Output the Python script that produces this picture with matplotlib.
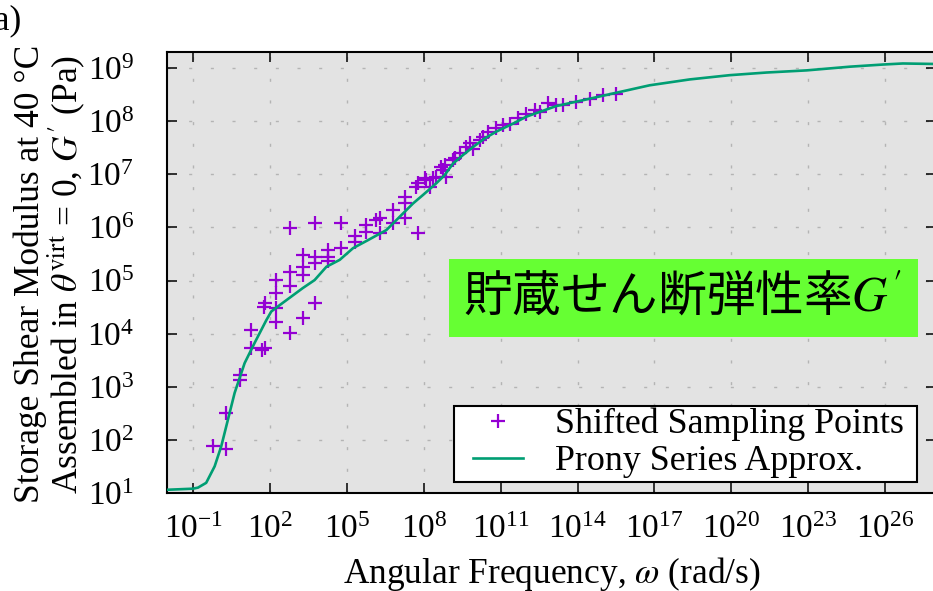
import matplotlib
matplotlib.use("Agg")
import matplotlib.pyplot as plt
from matplotlib.patches import Rectangle
from matplotlib.ticker import FixedLocator, NullLocator, LogFormatterMathtext
import numpy as np

plt.rcParams["font.family"] = ["Liberation Serif", "DejaVu Serif"]
plt.rcParams["mathtext.fontset"] = "stix"

# shifted sampling points (log10 of omega in rad/s, log10 of G' in Pa)
pts_log_omega = [-0.23, 0.30, 0.30, 0.81, 0.81, 1.27, 1.27, 1.79, 1.70, 1.79,
                 1.77, 2.25, 2.25, 2.25, 2.25, 2.77, 2.77, 2.77, 2.77, 3.28,
                 3.28, 3.28, 3.28, 3.74, 3.74, 3.74, 3.74, 4.26, 4.26, 4.26,
                 4.78, 4.78, 5.30, 5.30, 5.76, 5.76, 6.15, 6.28, 6.28, 6.80,
                 6.80, 7.25, 7.25, 7.25, 7.77, 7.71, 7.77, 8.04, 8.10, 8.23,
                 8.36, 8.49, 8.68, 8.75, 8.81, 8.88, 9.14, 9.20, 9.40, 9.66,
                 9.79, 9.92, 10.18, 10.31, 10.50, 10.83, 11.09, 11.35, 11.67, 12.00,
                 12.32, 12.52, 12.84, 13.17, 13.43, 13.95, 14.47, 14.99, 15.51]
pts_log_g = [1.89, 1.84, 2.51, 3.23, 3.13, 4.08, 3.73, 3.73, 3.70, 4.58,
             4.51, 5.01, 4.76, 4.48, 4.23, 4.01, 5.17, 4.89, 5.98, 4.30,
             5.48, 5.26, 5.11, 4.58, 6.08, 5.45, 5.33, 5.58, 5.45, 5.36,
             6.08, 5.61, 5.83, 5.73, 6.05, 5.92, 6.14, 6.17, 5.89, 6.33,
             6.08, 6.45, 6.17, 6.58, 5.89, 6.76, 6.83, 6.92, 6.89, 6.76,
             6.92, 6.95, 7.14, 7.08, 7.17, 6.95, 7.27, 7.30, 7.39, 7.51,
             7.58, 7.48, 7.64, 7.70, 7.80, 7.86, 7.92, 7.95, 8.05, 8.14,
             8.20, 8.17, 8.33, 8.30, 8.30, 8.36, 8.42, 8.48, 8.50]

# prony series approximation (log10 values)
prony_log_omega = [-2.0, -1.01, -0.81, -0.49, -0.16, 0.10, 0.36, 0.62, 1.01, 1.40,
                   1.86, 2.05, 2.38, 2.83, 3.28, 3.74, 4.20, 4.72, 5.24, 5.82,
                   6.54, 7.06, 7.58, 7.97, 8.49, 8.81, 9.14, 9.53, 9.92, 10.37,
                   10.83, 11.48, 12.00, 12.52, 13.17, 14.21, 15.51, 16.81, 18.37, 19.93,
                   21.37, 22.93, 24.63, 25.91, 26.69, 28.0]
prony_log_g = [1.07, 1.09, 1.11, 1.20, 1.51, 1.89, 2.39, 2.89, 3.45, 3.83,
               4.26, 4.42, 4.54, 4.70, 4.86, 5.01, 5.26, 5.39, 5.61, 5.76,
               5.95, 6.20, 6.45, 6.61, 6.83, 6.98, 7.20, 7.36, 7.51, 7.67,
               7.80, 7.95, 8.08, 8.17, 8.28, 8.39, 8.53, 8.67, 8.78, 8.86,
               8.91, 8.95, 9.02, 9.06, 9.08, 9.07]

x_ticks = [1e-1, 1e2, 1e5, 1e8, 1e11, 1e14, 1e17, 1e20, 1e23, 1e26]
y_ticks = [1e1, 1e2, 1e3, 1e4, 1e5, 1e6, 1e7, 1e8, 1e9]

purple = "#9400d3"
teal = "#009e73"

fig = plt.figure(figsize=(9.33, 5.91), dpi=100)
ax = fig.add_axes([0.1795, 0.165, 0.8242, 0.7475])
ax.set_facecolor("#e3e3e3")

ax.plot(10 ** np.array(pts_log_omega), 10 ** np.array(pts_log_g), "+",
        color=purple, markersize=10, markeredgewidth=1.6,
        label="Shifted Sampling Points", zorder=3)
ax.plot(10 ** np.array(prony_log_omega), 10 ** np.array(prony_log_g), "-",
        color=teal, linewidth=1.9, label="Prony Series Approx.", zorder=4)

ax.set_xscale("log")
ax.set_yscale("log")
ax.set_xlim(1e-2, 1e28)
ax.set_ylim(1e1, 2e9)

ax.xaxis.set_major_locator(FixedLocator(x_ticks))
ax.yaxis.set_major_locator(FixedLocator(y_ticks))
ax.xaxis.set_minor_locator(NullLocator())
ax.yaxis.set_minor_locator(NullLocator())
ax.xaxis.set_major_formatter(LogFormatterMathtext())
ax.yaxis.set_major_formatter(LogFormatterMathtext())

ax.tick_params(which="major", direction="in", length=7, width=1.1,
               top=True, right=True, labelsize=24)
ax.tick_params(axis="x", pad=15)
ax.tick_params(axis="y", pad=24)
for sp in ax.spines.values():
    sp.set_linewidth(1.5)

ax.grid(True, color="#b4b4b4", linewidth=1.0, linestyle=(0, (2.2, 13.4)))
ax.set_axisbelow(True)

ax.set_xlabel(r"Angular Frequency, $\omega$ (rad/s)", fontsize=25.5)
ax.xaxis.set_label_coords(0.5, -0.139)
ax.set_ylabel("Storage Shear Modulus at 40 °C\n"
              r"Assembled in $\theta^{\mathrm{virt}}$ = 0, $G'$ (Pa)",
              fontsize=25.5, linespacing=0.95)
ax.yaxis.set_label_coords(-0.1024, 0.496)

# green caption box
ax.add_patch(Rectangle((0.366, 0.354), 0.610, 0.177, transform=ax.transAxes,
                       facecolor="#66ff33", edgecolor="none", zorder=5))
ax.text(0.670, 0.4425, "貯蔵せん断弾性率$G'$", transform=ax.transAxes,
        ha="center", va="center", fontsize=35,
        family=["Noto Sans CJK JP", "DejaVu Sans"], zorder=6)

# legend frame drawn as its own box, legend entries placed inside it
ax.add_patch(Rectangle((0.3726, 0.026), 0.602, 0.172, transform=ax.transAxes,
                       facecolor="white", edgecolor="black", linewidth=1.5,
                       zorder=7))
leg = ax.legend(loc="center left", bbox_to_anchor=(0.388, 0.1143),
                borderaxespad=0, fontsize=25.8, frameon=False,
                handlelength=1.4, handletextpad=0.88,
                borderpad=0.2, labelspacing=0.1)
leg.set_zorder(8)

fig.text(22 / 933, 1 - 29 / 591, "(a)", ha="right", va="baseline", fontsize=25.5)

fig.savefig("out.png", dpi=100)
